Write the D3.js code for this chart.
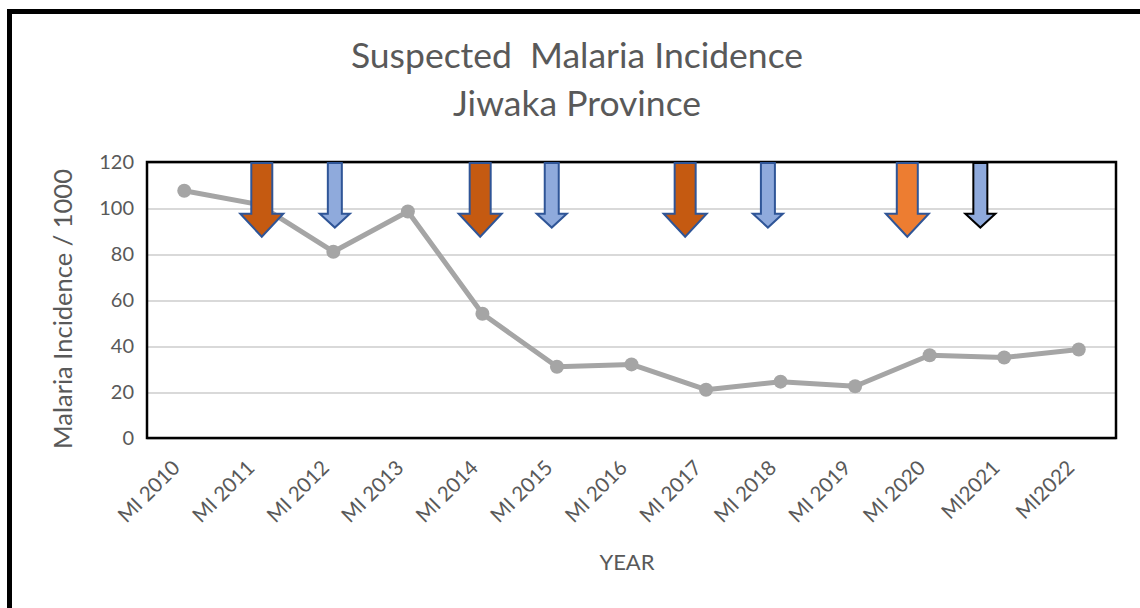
<!DOCTYPE html>
<html>
<head>
<meta charset="utf-8">
<script src="https://cdnjs.cloudflare.com/ajax/libs/d3/7.8.5/d3.min.js"></script>
<style>
  body { margin: 0; background: #fff; }
  text { font-family: Lato, "Open Sans", sans-serif; fill: #595959; }
</style>
</head>
<body>
<div id="chart-area"></div>
<script>
// data
var categories = ["MI 2010", "MI 2011", "MI 2012", "MI 2013", "MI 2014", "MI 2015", "MI 2016",
    "MI 2017", "MI 2018", "MI 2019", "MI 2020", "MI2021", "MI2022"];
var incidence = [107.5, 101.5, 81, 98.5, 54, 31, 32, 21, 24.5, 22.5, 36, 35, 38.5];
var yTicks = [0, 20, 40, 60, 80, 100, 120];

// intervention arrows: position in category units, kind
var arrowPos = [1.04, 2.02, 3.97, 4.93, 6.72, 7.83, 9.70, 10.68];
var arrowKind = ["big", "small", "big", "small", "big", "small", "big", "small"];
var arrowFill = ["#C55A11", "#8FAADC", "#C55A11", "#8FAADC", "#C55A11", "#8FAADC", "#ED7D31", "#8FAADC"];
var arrowLine = ["#2F5597", "#2F5597", "#2F5597", "#2F5597", "#2F5597", "#2F5597", "#2F5597", "#000000"];

var margin = { left: 147, right: 24, top: 162, bottom: 170 };
var width = 1140 - margin.left - margin.right;
var height = 608 - margin.top - margin.bottom;

var svg = d3.select("#chart-area")
    .append("svg")
    .attr("width", 1140)
    .attr("height", 608);

// outer frame (top and left edges visible)
svg.append("path")
    .attr("d", "M9.5,608 V11.5 H1140")
    .attr("fill", "none")
    .attr("stroke", "#000")
    .attr("stroke-width", 5);

// title
svg.append("text")
    .attr("x", 577)
    .attr("y", 68)
    .attr("text-anchor", "middle")
    .attr("font-size", "35.5px")
    .style("white-space", "pre")
    .text("Suspected  Malaria Incidence");
svg.append("text")
    .attr("x", 577)
    .attr("y", 116)
    .attr("text-anchor", "middle")
    .attr("font-size", "35.5px")
    .text("Jiwaka Province");

var g = svg.append("g")
    .attr("transform", "translate(" + margin.left + "," + margin.top + ")");

var x = d3.scaleBand()
    .domain(categories)
    .range([0, width]);

// continuous version of x for marks placed between categories
var xi = d3.scaleLinear()
    .domain([-0.5, categories.length - 0.5])
    .range([0, width]);

var y = d3.scaleLinear()
    .domain([0, 120])
    .range([height, 0]);

// gridlines
g.selectAll(".grid")
    .data(yTicks)
    .enter().append("line")
    .attr("class", "grid")
    .attr("x1", 0)
    .attr("x2", width)
    .attr("y1", function (d) { return y(d) + 1; })
    .attr("y2", function (d) { return y(d) + 1; })
    .attr("stroke", "#D9D9D9")
    .attr("stroke-width", 2);

// y axis
var yAxisCall = d3.axisLeft(y)
    .tickValues(yTicks)
    .tickSize(0)
    .tickPadding(13);
var yAxis = g.append("g").call(yAxisCall);
yAxis.select(".domain").remove();
yAxis.selectAll("text")
    .attr("font-size", "20px")
    .attr("font-family", "Lato")
    .attr("fill", "#595959");

// x axis labels
var xAxisCall = d3.axisBottom(x).tickSize(0);
var xAxis = g.append("g")
    .attr("transform", "translate(0," + height + ")")
    .call(xAxisCall);
xAxis.select(".domain").remove();
xAxis.selectAll("text")
    .attr("font-size", "20.5px")
    .attr("font-family", "Lato")
    .attr("fill", "#595959")
    .attr("text-anchor", "end")
    .attr("dy", 0)
    .attr("y", 0)
    .attr("transform", "translate(-3,31) rotate(-45)");

// plot frame
g.append("rect")
    .attr("x", 0)
    .attr("y", 0)
    .attr("width", width)
    .attr("height", height)
    .attr("fill", "none")
    .attr("stroke", "#000")
    .attr("stroke-width", 2.5);

// axis titles
svg.append("text")
    .attr("transform", "translate(72," + (margin.top + height / 2 + 9) + ") rotate(-90)")
    .attr("text-anchor", "middle")
    .attr("font-size", "25.5px")
    .text("Malaria Incidence / 1000");

svg.append("text")
    .attr("x", 627)
    .attr("y", 570)
    .attr("text-anchor", "middle")
    .attr("font-size", "22px")
    .text("YEAR");

// incidence line
var line = d3.line()
    .x(function (d, i) { return x(categories[i]) + x.bandwidth() / 2; })
    .y(function (d) { return y(d); });

g.append("path")
    .datum(incidence)
    .attr("d", line)
    .attr("fill", "none")
    .attr("stroke", "#A5A5A5")
    .attr("stroke-width", 5)
    .attr("stroke-linejoin", "round");

g.selectAll(".dot")
    .data(incidence)
    .enter().append("circle")
    .attr("class", "dot")
    .attr("cx", function (d, i) { return x(categories[i]) + x.bandwidth() / 2; })
    .attr("cy", function (d) { return y(d); })
    .attr("r", 7)
    .attr("fill", "#A5A5A5");

// arrows
var arrowShape = {
    big: { shaft: 10.5, head: 21.5, neck: 97.5, tip: 87.5 },
    small: { shaft: 7, head: 15, neck: 97.5, tip: 91.5 }
};

g.selectAll(".arrow")
    .data(arrowPos)
    .enter().append("path")
    .attr("class", "arrow")
    .attr("d", function (d, i) {
        var s = arrowShape[arrowKind[i]];
        var cx = xi(d);
        var top = y(120) + 1;
        var neck = y(s.neck);
        var tip = y(s.tip);
        return "M" + (cx - s.shaft) + "," + top +
            "H" + (cx + s.shaft) +
            "V" + neck +
            "H" + (cx + s.head) +
            "L" + cx + "," + tip +
            "L" + (cx - s.head) + "," + neck +
            "H" + (cx - s.shaft) + "Z";
    })
    .attr("fill", function (d, i) { return arrowFill[i]; })
    .attr("stroke", function (d, i) { return arrowLine[i]; })
    .attr("stroke-width", 2);
</script>
</body>
</html>
